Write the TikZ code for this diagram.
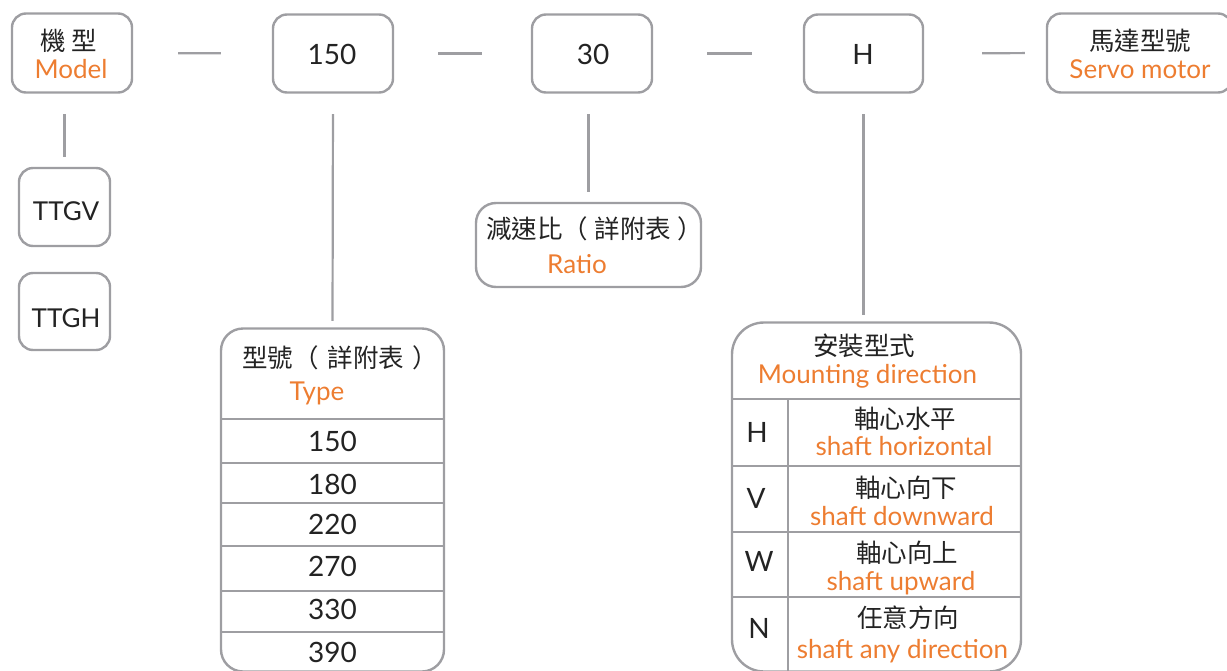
\documentclass[tikz,border=0pt]{standalone}
\usepackage{fontspec}
\setmainfont{Lato}
\newfontfamily\cjk{Noto Sans CJK TC}
\definecolor{lg}{RGB}{158,158,162}
\definecolor{og}{RGB}{237,125,49}
\definecolor{tx}{RGB}{35,35,35}
\begin{document}
\begin{tikzpicture}[x=1pt,y=-1pt,
  box/.style={draw=lg,line width=2.4pt,rounded corners=14pt,inner sep=0pt},
  conn/.style={draw=lg,line width=2.2pt},
  gridln/.style={draw=lg,line width=2.2pt},
  zh/.style={font=\cjk\fontsize{25.5}{30}\selectfont,text=tx,inner sep=0pt,anchor=base},
  en/.style={font=\fontsize{26}{30}\selectfont,text=og,inner sep=0pt,anchor=base},
  num/.style={font=\fontsize{28}{30}\selectfont,text=tx,inner sep=0pt,anchor=base},
]
\useasboundingbox (0,0) rectangle (1227,670);
\clip (0,0) rectangle (1227,670);

% top row boxes
\node[box,minimum width=120pt,minimum height=79pt] (model) at (72,53) {};
\node[box,minimum width=120pt,minimum height=78pt] (b150) at (333,53.5) {};
\node[box,minimum width=120pt,minimum height=78pt] (b30) at (592,53.5) {};
\node[box,minimum width=119pt,minimum height=78pt] (bH) at (863.5,53.5) {};
\node[box,minimum width=185pt,minimum height=79pt] (servo) at (1139.5,53) {};

\node[zh] (tmodelzh) at (69,50) {機 型};
\node[en] (tmodelen) at (71,78) {Model};
\node[num] (t150) at (332,64) {150};
\node[num] (t30) at (593,64) {30};
\node[num] (tH) at (863,64) {H};
\node[zh] (tservozh) at (1140,50) {馬達型號};
\node[en] (tservoen) at (1140,78) {Servo motor};

% model options
\node[box,minimum width=91pt,minimum height=78pt] (ttgv) at (64.5,207) {};
\node[box,minimum width=91pt,minimum height=77pt] (ttgh) at (64.5,311.5) {};
\node[num,font=\fontsize{26}{30}\selectfont] (tttgv) at (66,220) {TTGV};
\node[num,font=\fontsize{26}{30}\selectfont] (tttgh) at (66,327) {TTGH};

% ratio
\node[box,rounded corners=20pt,minimum width=225pt,minimum height=84pt] (ratio) at (588.5,245) {};
\node[zh] (tratiozh) at (594.5,238) {減速比（\hspace{7pt}詳附表\hspace{6pt}）};
\node[en] (tratioen) at (577,273) {Ratio};

% type table
\node[box,rounded corners=22pt,minimum width=223pt,minimum height=343pt] (typetbl) at (332.5,500) {};
\draw[gridln] (220,419) -- (445,419);
\draw[gridln] (220,463) -- (445,463);
\draw[gridln] (220,503) -- (445,503);
\draw[gridln] (220,546) -- (445,546);
\draw[gridln] (220,591) -- (445,591);
\draw[gridln] (220,632) -- (445,632);
\node[zh] (ttypezh) at (340,367) {型號（\hspace{9pt}詳附表\hspace{8pt}）};
\node[en] (ttypeen) at (317,400) {Type};
\node[num] (r150) at (332.5,451) {150};
\node[num] (r180) at (332.5,494) {180};
\node[num] (r220) at (332.5,534) {220};
\node[num] (r270) at (332.5,576) {270};
\node[num] (r330) at (332.5,619) {330};
\node[num] (r390) at (332.5,662) {390};

% mounting table
\node[box,rounded corners=32pt,minimum width=289pt,minimum height=349pt] (mount) at (876.5,497) {};
\draw[gridln] (731,399) -- (1022,399);
\draw[gridln] (731,466) -- (1022,466);
\draw[gridln] (731,532) -- (1022,532);
\draw[gridln] (731,597) -- (1022,597);
\draw[gridln] (788,399) -- (788,672);
\node[zh] (tmountzh) at (864,355) {安裝型式};
\node[en] (tmounten) at (867.5,383) {Mounting direction};
\node[num] (mH) at (757,442) {H};
\node[num] (mV) at (756,508) {V};
\node[num] (mW) at (759,571) {W};
\node[num] (mN) at (759,638) {N};
\node[zh] (mHzh) at (905,428) {軸心水平};
\node[en] (mHen) at (904,455) {shaft horizontal};
\node[zh] (mVzh) at (906,497) {軸心向下};
\node[en] (mVen) at (902,525) {shaft downward};
\node[zh] (mWzh) at (907,562) {軸心向上};
\node[en] (mWen) at (901,590) {shaft upward};
\node[zh] (mNzh) at (908,627) {任意方向};
\node[en] (mNen) at (902.5,658) {shaft any direction};

% connectors
\draw[conn,shorten <=45pt,shorten >=51pt] (model.east) -- (b150.west);
\draw[conn,shorten <=44pt,shorten >=49pt] (b150.east) -- (b30.west);
\draw[conn,shorten <=54pt,shorten >=51pt] (b30.east) -- (bH.west);
\draw[conn,shorten <=58pt,shorten >=21pt] (bH.east) -- (servo.west);
\draw[conn,shorten <=20.5pt,shorten >=10pt] (ttgv.north |- model.south) -- (ttgv.north);
\draw[conn,shorten <=20.5pt,shorten >=6.5pt] (b150.south) -- (typetbl.north);
\draw[conn,shorten <=20.5pt,shorten >=10pt] (ratio.north |- b30.south) -- (ratio.north);
\draw[conn,shorten <=20.5pt,shorten >=6.5pt] (bH.south) -- (bH.south |- mount.north);
\end{tikzpicture}
\end{document}
